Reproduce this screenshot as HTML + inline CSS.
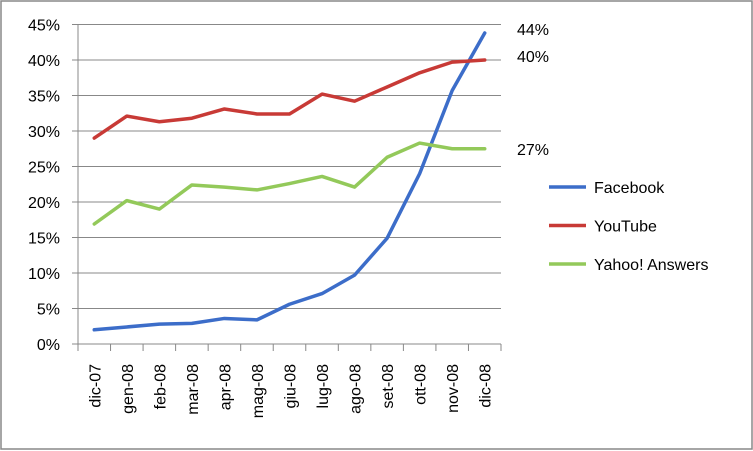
<!DOCTYPE html>
<html><head><meta charset="utf-8">
<style>
html,body{margin:0;padding:0;background:#fff;}
svg{display:block;font-family:"Liberation Sans",sans-serif;}
</style></head>
<body>
<svg id="chart" width="753" height="451" xmlns="http://www.w3.org/2000/svg">
<rect x="1" y="1" width="751" height="448" fill="#fff" stroke="#888" stroke-width="1.5"/>
<g id="grid"></g>
<g id="axes"></g>
<g id="series"></g>
<g id="labels"></g>
<g id="legend"></g>
</svg>
<script>
const categories = ["dic-07","gen-08","feb-08","mar-08","apr-08","mag-08","giu-08","lug-08","ago-08","set-08","ott-08","nov-08","dic-08"];
const facebook = [2.0,2.4,2.8,2.9,3.6,3.4,5.6,7.1,9.7,14.9,24.0,35.7,43.8];
const youtube = [29.0,32.1,31.3,31.8,33.1,32.4,32.4,35.2,34.2,36.2,38.2,39.7,40.0];
const yahoo = [16.9,20.2,19.0,22.4,22.1,21.7,22.6,23.6,22.1,26.3,28.3,27.5,27.5];
const yTicks = [0,5,10,15,20,25,30,35,40,45];
const seriesNames = ["Facebook","YouTube","Yahoo! Answers"];
const endLabels = ["44%","40%","27%"];

const NS="http://www.w3.org/2000/svg";
const X0=78,X1=501,Y0=344,Y1=24.5,YMAX=45;
const band=(X1-X0)/categories.length;
const xs=i=>X0+band*(i+0.5);
const ys=v=>Y0-(v/YMAX)*(Y0-Y1);
function mk(tag,attrs,parent,text){const e=document.createElementNS(NS,tag);for(const k in attrs)e.setAttribute(k,attrs[k]);if(text!==undefined)e.textContent=text;parent.appendChild(e);return e;}
const grid=document.getElementById('grid'),axes=document.getElementById('axes'),ser=document.getElementById('series'),lab=document.getElementById('labels'),leg=document.getElementById('legend');
yTicks.forEach(t=>{
  const y=ys(t);
  const l=mk('line',{x1:X0-6,x2:X1,y1:y,y2:y,stroke:t===0?'#888':'#888','stroke-width':1},grid);
  
  
  const tx=mk('text',{x:60,y:y+6,'text-anchor':'end','font-size':16,fill:'#000'},axes,t+'%');
  
  
});
const ya=mk('line',{x1:X0,x2:X0,y1:Y1,y2:Y0,stroke:'#888'},axes);


for(let i=0;i<=categories.length;i++){
  const x=X0+band*i;
  const tk=mk('line',{x1:x,x2:x,y1:Y0,y2:Y0+7,stroke:'#888'},axes);
  
  
}
categories.forEach((c,i)=>{
  const x=xs(i)+6;
  const t=mk('text',{x:x,y:364,transform:`rotate(-90 ${x} 364)`,'text-anchor':'end','font-size':16,fill:'#000'},axes,c);
  
  
});
const all=[facebook,youtube,yahoo],colors=['#3c6dc9','#c83a36','#93c95a'];
all.forEach((d,si)=>{
  const p=mk('polyline',{points:d.map((v,i)=>xs(i)+','+ys(v)).join(' '),fill:'none',stroke:colors[si],'stroke-width':3.5,'stroke-linejoin':'round','stroke-linecap':'round'},ser);
  
  
  const last=d[d.length-1];
  const off=si===0?-4:(si===1?-4:0);
  const t=mk('text',{x:517,y:ys(last)+6+off,'font-size':16,fill:'#000'},lab,endLabels[si]);
  
  
  const ly=187+si*38.5;
  const ll=mk('line',{x1:549,x2:586,y1:ly,y2:ly,stroke:colors[si],'stroke-width':3.5},leg);
  
  
  const lt=mk('text',{x:594,y:ly+6,'font-size':16,fill:'#000'},leg,seriesNames[si]);
  
  
});
</script>
</body></html>
